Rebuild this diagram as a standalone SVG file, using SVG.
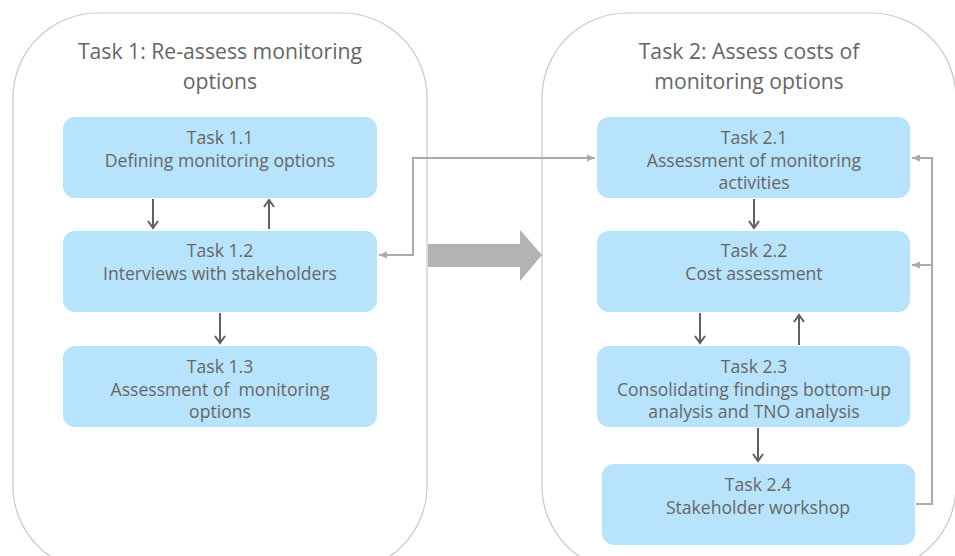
<svg xmlns="http://www.w3.org/2000/svg" width="955" height="556" viewBox="0 0 955 556">
<style>
.panel{fill:#fff;stroke:#c8c8c8;stroke-width:1.2}
.box{fill:#b8e3fd}
.title{font-family:"Open Sans","Liberation Sans",sans-serif;font-size:21.2px;fill:#666;text-anchor:middle}
.t{font-family:"Open Sans","Liberation Sans",sans-serif;font-size:17.6px;fill:#666;text-anchor:middle}
.dark{stroke:#606060;stroke-width:2;fill:none;marker-end:url(#dh)}
.light{stroke:#aaa;stroke-width:2;fill:none}
</style>
<defs>
<marker id="dh" markerWidth="12" markerHeight="12" refX="9" refY="6" orient="auto" markerUnits="userSpaceOnUse">
<path d="M2,1 L9,6 L2,11" fill="none" stroke="#606060" stroke-width="2"/>
</marker>
<marker id="lh" markerWidth="10" markerHeight="10" refX="8" refY="5" orient="auto-start-reverse" markerUnits="userSpaceOnUse">
<path d="M0,1.5 L8,5 L0,8.5 Z" fill="#aaa"/>
</marker>
</defs>
<g id="panel1">
<rect class="panel" x="13" y="13" width="414" height="558" rx="85" ry="85"/>
<text class="title" x="220" y="59">Task 1: Re-assess monitoring</text>
<text class="title" x="220" y="88.5">options</text>
</g>
<g id="panel2">
<rect class="panel" x="542" y="13" width="414" height="558" rx="85" ry="85"/>
<text class="title" x="749" y="59">Task 2: Assess costs of</text>
<text class="title" x="749" y="88.5">monitoring options</text>
</g>
<g id="task11">
<rect class="box" x="63" y="117" width="314" height="81" rx="12"/>
<text class="t" x="220" y="144">Task 1.1</text>
<text class="t" x="220" y="167">Defining monitoring options</text>
</g>
<g id="task12">
<rect class="box" x="63" y="231" width="314" height="81" rx="12"/>
<text class="t" x="220" y="257">Task 1.2</text>
<text class="t" x="220" y="280">Interviews with stakeholders</text>
</g>
<g id="task13">
<rect class="box" x="63" y="346" width="314" height="81" rx="12"/>
<text class="t" x="220" y="373">Task 1.3</text>
<text class="t" x="220" y="396" xml:space="preserve">Assessment of  monitoring</text>
<text class="t" x="220" y="418">options</text>
</g>
<g id="task21">
<rect class="box" x="597" y="117" width="313" height="81" rx="12"/>
<text class="t" x="754" y="144">Task 2.1</text>
<text class="t" x="754" y="167">Assessment of monitoring</text>
<text class="t" x="754" y="189">activities</text>
</g>
<g id="task22">
<rect class="box" x="597" y="231" width="313" height="81" rx="12"/>
<text class="t" x="754" y="257">Task 2.2</text>
<text class="t" x="754" y="280">Cost assessment</text>
</g>
<g id="task23">
<rect class="box" x="597" y="346" width="313" height="81" rx="12"/>
<text class="t" x="754" y="373">Task 2.3</text>
<text class="t" x="754" y="396">Consolidating findings bottom-up</text>
<text class="t" x="754" y="418">analysis and TNO analysis</text>
</g>
<g id="task24">
<rect class="box" x="602" y="464" width="313" height="81" rx="12"/>
<text class="t" x="758" y="491">Task 2.4</text>
<text class="t" x="758" y="514">Stakeholder workshop</text>
</g>
<g id="connectors">
<path d="M428,244 H520 V230 L542,255 L520,281 V267 H428 Z" fill="#b3b3b3"/>
<path class="dark" d="M153,199 V228"/>
<path class="dark" d="M269,229 V200"/>
<path class="dark" d="M220,313 V343"/>
<path class="dark" d="M754,199 V228"/>
<path class="dark" d="M700,313 V343"/>
<path class="dark" d="M799,345 V315"/>
<path class="dark" d="M758,428 V461"/>
<path class="light" d="M379,255 H413 V158 H595" marker-start="url(#lh)" marker-end="url(#lh)"/>
<path class="light" d="M916,504 H932 V158 H912" marker-end="url(#lh)"/>
<path class="light" d="M932,265 H912" marker-end="url(#lh)"/>
</g>
</svg>
